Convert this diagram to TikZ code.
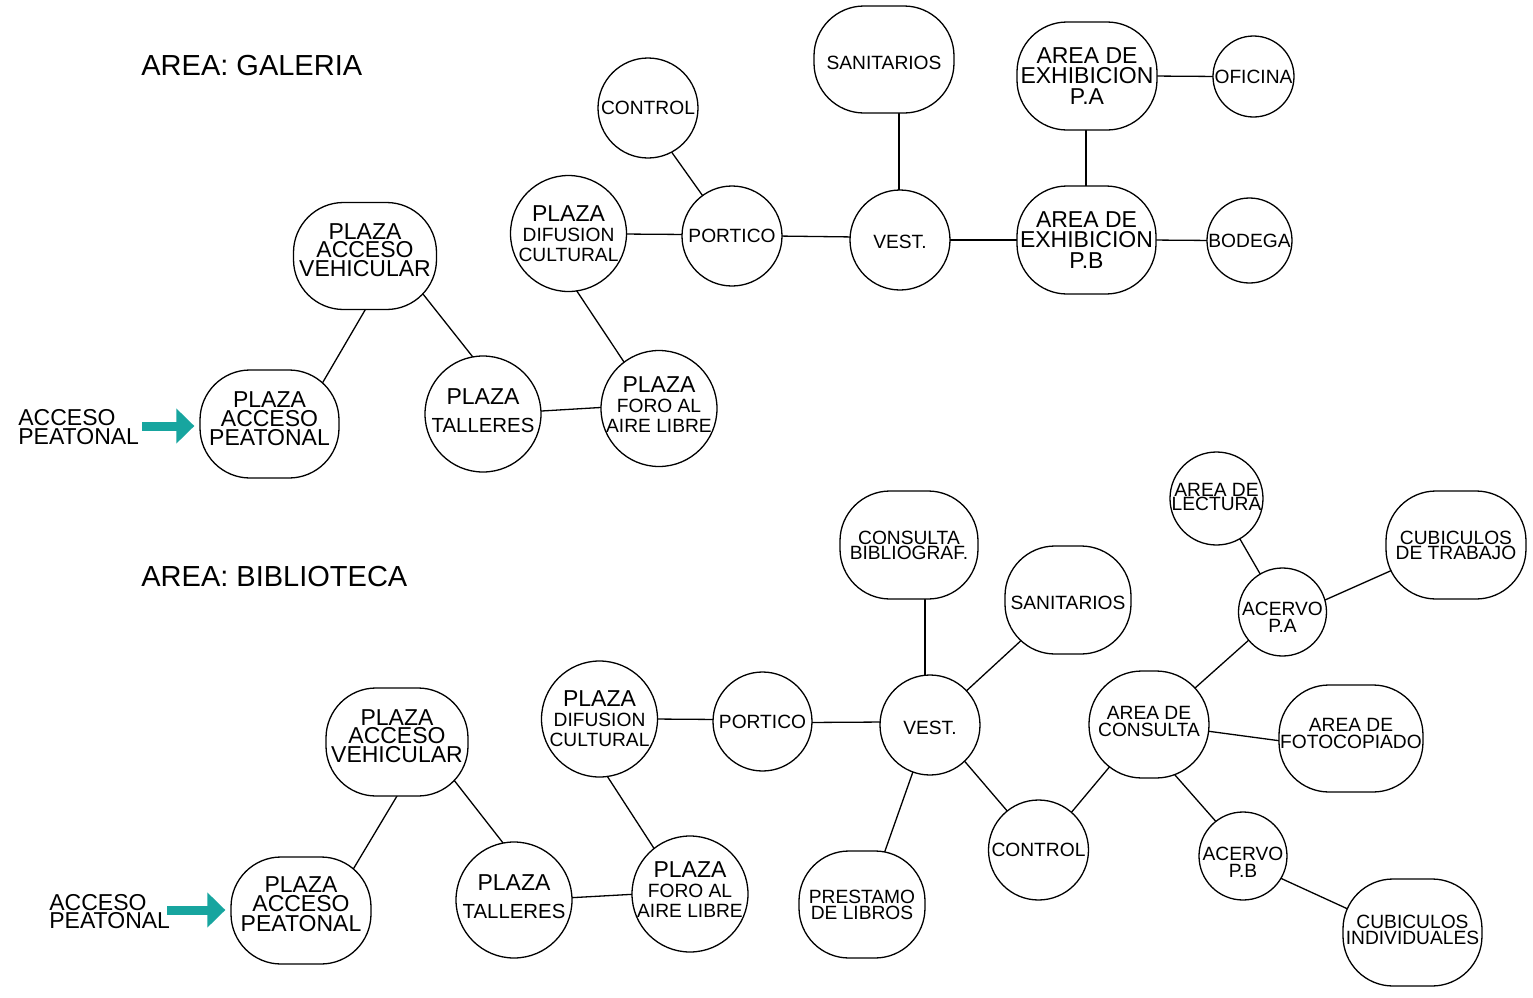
\documentclass[tikz,border=0pt]{standalone}
\usepackage{fontspec}
\setmainfont{Liberation Sans}
\usetikzlibrary{backgrounds,calc,arrows.meta}
\definecolor{tealarrow}{HTML}{17A59F}
\newcommand\fLg{\fontsize{11.5}{9.4}\selectfont}
\newcommand\fSm{\fontsize{9.6}{10}\selectfont}
\newcommand\dn[1]{\rule{0pt}{#1}}
\begin{document}
\begin{tikzpicture}[x=0.5pt,y=-0.5pt,
  bub/.style={draw=black, fill=white, line width=0.65pt, inner sep=0pt, align=center, font=\fSm},
  rbox/.style={bub, rectangle, rounded corners=25pt},
  cbox/.style={bub, rectangle, minimum size=2*#1, rounded corners=#1},
  fs/.style={font=\fontsize{9.6}{#1}\selectfont},
  fl/.style={font=\fontsize{11.5}{#1}\selectfont},
  lnk/.style={draw=black, line width=0.65pt},
  flecha/.style={draw=tealarrow, line width=4.5pt, -{Triangle[width=17pt,length=9pt]}},
  titulo/.style={font=\fontsize{14.5}{16}\selectfont, anchor=west, inner sep=0pt},
  lbl/.style={font=\fLg, align=left, anchor=west, inner sep=0pt}]
\useasboundingbox (0,0) rectangle (1533,997);

% ---------------- AREA: GALERIA ----------------
\node[titulo] (t1) at (141,66) {AREA: GALERIA};
\node[lbl] (l1) at (18,427) {ACCESO\\PEATONAL};

\node[rbox, minimum width=71.5pt, minimum height=53.5pt, fl=9.3, text depth=6pt] (veh1) at (365,256) {PLAZA\\ACCESO\\VEHICULAR};
\node[rbox, minimum width=69.5pt, minimum height=54pt, fl=9.6, text depth=5.5pt] (peat1) at (269.5,424) {PLAZA\\ACCESO\\PEATONAL};
\node[cbox=29pt, text depth=3pt] (tal1) at (483,414) {{\fLg PLAZA}\\[4pt]{\fontsize{10.2}{10}\selectfont TALLERES}};
\node[cbox=29pt, text depth=4pt] (foro1) at (659,408.5) {{\fLg PLAZA}\\FORO AL\\AIRE LIBRE};
\node[cbox=29pt] (dif1) at (568.5,233.5) {{\fLg PLAZA}\\DIFUSION\\CULTURAL};
\node[cbox=25pt] (ctl1) at (648,108) {CONTROL};
\node[cbox=25pt] (por1) at (732,236) {PORTICO};
\node[cbox=25pt] (ves1) at (900,240) {\dn{8.5pt}VEST.};
\node[rbox, minimum width=70pt, minimum height=53.5pt] (san1) at (884,59.5) {\dn{10pt}SANITARIOS};
\node[rbox, minimum width=70pt, minimum height=54pt, fl=10.25] (pa1) at (1087,76) {AREA DE\\EXHIBICION\\P.A};
\node[cbox=20.25pt] (ofi1) at (1253.5,76.5) {OFICINA};
\node[rbox, minimum width=69.5pt, minimum height=54pt, fl=10.25] (pb1) at (1086.5,240) {AREA DE\\EXHIBICION\\P.B};
\node[cbox=21.25pt] (bod1) at (1249.5,240.5) {BODEGA};

\coordinate (a1) at (142,426);
\draw[flecha, shorten >=2.5pt] (a1) -- (a1 -| peat1.west);

\begin{scope}[on background layer]
\draw[lnk] ($(veh1)+(3,49)$) -- ($(peat1)+(50,-36)$);
\draw[lnk] ($(veh1)+(54,33)$) -- ($(tal1)+(-7,-53)$);
\draw[lnk] ($(tal1)+(52,-2.6)$) -- ($(foro1)+(-52,-1.4)$);
\draw[lnk] ($(foro1)+(-32,-42)$) -- ($(dif1)+(6,54)$);
\draw[lnk] ($(dif1)+(53,0.5)$) -- ($(por1)+(-44,-1.5)$);
\draw[lnk] ($(por1)+(-27,-37)$) -- ($(ctl1)+(20,39)$);
\draw[lnk] ($(por1)+(44,0)$) -- ($(ves1)+(-44,-3)$);
\draw[lnk] ($(ves1)+(-1,-44)$) -- ($(san1)+(15,47)$);
\draw[lnk] ($(ves1)+(44,0)$) -- ($(pb1)+(-63,0)$);
\draw[lnk] ($(pb1)+(-0.5,-48)$) -- ($(pa1)+(-1,48)$);
\draw[lnk] ($(pa1)+(64,0)$) -- ($(ofi1)+(-34,0)$);
\draw[lnk] ($(pb1)+(64,0)$) -- ($(bod1)+(-36,0)$);
\end{scope}

% ---------------- AREA: BIBLIOTECA ----------------
\node[titulo] (t2) at (141,577) {AREA: BIBLIOTECA};
\node[lbl] (l2) at (49,911.5) {ACCESO\\PEATONAL};

\node[rbox, minimum width=71pt, minimum height=54pt, fl=9.3, text depth=6pt] (veh2) at (397,742) {PLAZA\\ACCESO\\VEHICULAR};
\node[rbox, minimum width=70pt, minimum height=53.5pt, fl=9.6, text depth=6.5pt] (peat2) at (301,910.5) {PLAZA\\ACCESO\\PEATONAL};
\node[cbox=29pt, text depth=3.5pt] (tal2) at (514,900) {{\fLg PLAZA}\\[4pt]{\fontsize{10.2}{10}\selectfont TALLERES}};
\node[cbox=29pt, text depth=4.5pt] (foro2) at (690,894) {{\fLg PLAZA}\\FORO AL\\AIRE LIBRE};
\node[cbox=29pt] (dif2) at (599.5,719) {{\fLg PLAZA}\\DIFUSION\\CULTURAL};
\node[cbox=24.75pt] (por2) at (762.5,721.5) {PORTICO};
\node[cbox=25pt] (ves2) at (930,725) {\dn{9.5pt}VEST.};
\node[rbox, minimum width=69pt, minimum height=54pt, fs=7.5] (cbib) at (909,545) {CONSULTA\\BIBLIOGRAF.};
\node[rbox, minimum width=63pt, minimum height=54pt] (san2) at (1068,600) {\dn{10pt}SANITARIOS};
\node[rbox, minimum width=63pt, minimum height=53.5pt, fs=8] (pres) at (862,904.5) {PRESTAMO\\DE LIBROS};
\node[cbox=25pt] (ctl2) at (1038.5,850) {CONTROL};
\node[rbox, rounded corners=26.5pt, minimum width=60pt, minimum height=53.5pt, fs=8.5, text depth=3pt] (acon) at (1149,724.5) {AREA DE\\CONSULTA};
\node[rbox, minimum width=72pt, minimum height=53.5pt, fs=8.5, text depth=5pt] (foto) at (1351,738.5) {AREA DE\\FOTOCOPIADO};
\node[cbox=22pt, fs=8.5] (apa) at (1282.5,612) {\dn{12pt}ACERVO\\P.A};
\node[cbox=23.25pt, fs=7, text depth=2pt] (lec) at (1216.5,498.5) {AREA DE\\LECTURA};
\node[rbox, minimum width=70pt, minimum height=54pt, fs=7.5] (ctra) at (1456,545) {CUBICULOS\\DE TRABAJO};
\node[cbox=22pt, fs=8.5] (apb) at (1243,856) {\dn{12.9pt}ACERVO\\P.B};
\node[rbox, minimum width=69.5pt, minimum height=53.5pt, fs=8, text depth=2.5pt] (cind) at (1412.5,932.5) {CUBICULOS\\INDIVIDUALES};

\coordinate (a2) at (167,910);
\draw[flecha, shorten >=2.5pt] (a2) -- (a2 -| peat2.west);

\begin{scope}[on background layer]
\draw[lnk] ($(veh2)+(3,49)$) -- ($(peat2)+(49,-36)$);
\draw[lnk] ($(veh2)+(53,33)$) -- ($(tal2)+(-7,-52)$);
\draw[lnk] ($(tal2)+(52,-2)$) -- ($(foro2)+(-52,0)$);
\draw[lnk] ($(foro2)+(-33,-41)$) -- ($(dif2)+(5,53)$);
\draw[lnk] ($(dif2)+(53,0)$) -- ($(por2)+(-43,-2)$);
\draw[lnk] ($(por2)+(44,1)$) -- ($(ves2)+(-44,-3)$);
\draw[lnk] ($(ves2)+(-5,-44)$) -- ($(cbib)+(16,48)$);
\draw[lnk] ($(ves2)+(33,-31)$) -- ($(san2)+(-42,36)$);
\draw[lnk] ($(ves2)+(-15,41)$) -- ($(pres)+(20,-45)$);
\draw[lnk] ($(ves2)+(31,32)$) -- ($(ctl2)+(-27,-34)$);
\draw[lnk] ($(ctl2)+(29,-33)$) -- ($(acon)+(-35,37)$);
\draw[lnk] ($(acon)+(54,6)$) -- ($(foto)+(-66,3)$);
\draw[lnk] ($(acon)+(41,-32)$) -- ($(apa)+(-28,23)$);
\draw[lnk] ($(apa)+(-20,-34)$) -- ($(lec)+(22,38)$);
\draw[lnk] ($(apa)+(38,-10)$) -- ($(ctra)+(-59,23)$);
\draw[lnk] ($(acon)+(22,46)$) -- ($(apb)+(-24,-31)$);
\draw[lnk] ($(apb)+(35,21)$) -- ($(cind)+(-57,-20)$);
\end{scope}
\end{tikzpicture}
\end{document}
